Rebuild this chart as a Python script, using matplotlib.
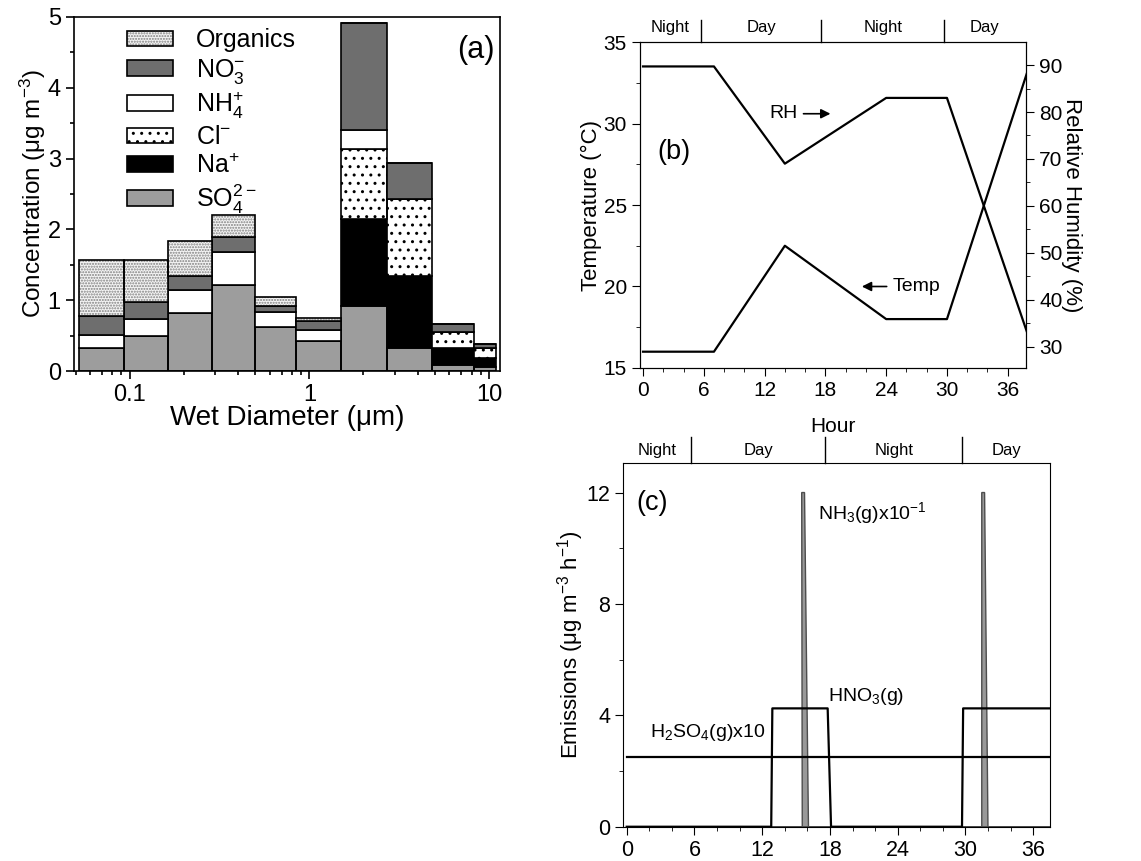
import numpy as np
import matplotlib.pyplot as plt
from matplotlib.patches import Patch
from matplotlib.legend_handler import HandlerTuple
from matplotlib.ticker import MultipleLocator, NullFormatter

plt.rcParams['font.family'] = ['Liberation Sans', 'DejaVu Sans']
plt.rcParams['mathtext.default'] = 'regular'
plt.rcParams['hatch.linewidth'] = 1.0

# ---- (a) size-resolved composition ----
bin_edges = [0.052, 0.093, 0.163, 0.286, 0.495, 0.847, 1.49, 2.71, 4.82, 8.25, 10.9]
so4 = [0.33, 0.49, 0.815, 1.22, 0.62, 0.43, 0.92, 0.32, 0.09, 0.06]
na = [0, 0, 0, 0, 0, 0, 1.23, 1.02, 0.23, 0.12]
cl = [0, 0, 0, 0, 0, 0, 0.99, 1.09, 0.235, 0.15]
nh4 = [0.18, 0.24, 0.325, 0.46, 0.22, 0.15, 0.27, 0, 0, 0]
no3 = [0.27, 0.24, 0.20, 0.21, 0.08, 0.12, 1.50, 0.51, 0.105, 0.05]
org = [0.79, 0.60, 0.50, 0.31, 0.12, 0.05, 0, 0, 0, 0]

# ---- (b) meteorology ----
met_hours = [0, 7, 14, 24, 30, 38]
temp = [16, 16, 22.5, 18, 18, 33.3]
rh = [89.7, 89.7, 69, 83, 83, 32.5]

# ---- (c) emissions ----
h2so4_hours = [0, 38]
h2so4 = [2.5, 2.5]
hno3_hours = [0, 12.8, 12.9, 17.8, 18.1, 29.7, 29.8, 38]
hno3 = [0, 0, 4.25, 4.25, 0, 0, 4.25, 4.25]
nh3_hours = [0, 15.55, 15.5, 15.75, 16.1, 31.45, 31.45, 31.7, 32.0, 38]
nh3 = [0, 0, 12, 12, 0, 0, 12, 12, 0, 0]

period_edges = [5.7, 17.6, 29.7]
period_labels = ['Night', 'Day', 'Night', 'Day']

fig = plt.figure(figsize=(11.41, 8.61), dpi=100)
axa = fig.add_axes([0.0649, 0.5691, 0.3733, 0.4112])
axb = fig.add_axes([0.5609, 0.5726, 0.3383, 0.3786])
axc = fig.add_axes([0.5463, 0.0398, 0.3740, 0.4221])

# layer styles: name, values, face, hatch, hatch colour
layers = [
    ('$SO_4^{2-}$', so4, '#9d9d9d', None, 'k'),
    ('$Na^{+}$', na, 'black', None, 'k'),
    ('$Cl^{-}$', cl, 'white', '..', 'k'),
    ('$NH_4^{+}$', nh4, 'white', None, 'k'),
    ('$NO_3^{-}$', no3, '#6e6e6e', None, 'k'),
    ('Organics', org, '#f4f4f4', '......', '0.5'),
]

edges = np.array(bin_edges)
left = edges[:-1]
width = np.diff(edges)
bottom = np.zeros(len(left))
handles = []
for name, vals, fc, hatch, hc in layers:
    vals = np.array(vals)
    axa.bar(left, vals, width, bottom=bottom, align='edge', color=fc,
            hatch=hatch, edgecolor=hc, linewidth=0)
    axa.bar(left, vals, width, bottom=bottom, align='edge', fill=False,
            edgecolor='k', linewidth=1.2)
    bottom += vals
    h = (Patch(facecolor=fc, hatch=hatch, edgecolor=hc, linewidth=0),
         Patch(fill=False, edgecolor='k', linewidth=1.2))
    handles.append((h, name))

handles = handles[::-1]
axa.legend([h for h, n in handles], [n for h, n in handles],
           handler_map={tuple: HandlerTuple(ndivide=1)},
           loc='upper left', bbox_to_anchor=(0.124, 0.968), frameon=False,
           fontsize=18, handlelength=1.85, handleheight=0.6,
           labelspacing=0.17, handletextpad=0.9, borderpad=0, borderaxespad=0)

axa.set_xscale('log')
axa.set_xlim(0.049, 11.5)
axa.set_ylim(0, 5)
axa.set_xticks([0.1, 1, 10], labels=['0.1', '1', '10'])
axa.xaxis.set_minor_formatter(NullFormatter())
axa.yaxis.set_major_locator(MultipleLocator(1))
axa.yaxis.set_minor_locator(MultipleLocator(0.5))
axa.tick_params(which='both', direction='out', labelsize=17, width=1.2)
axa.tick_params(which='major', length=6)
axa.tick_params(which='minor', length=3)
axa.set_xlabel('Wet Diameter (μm)', fontsize=20, labelpad=-1)
axa.set_ylabel('Concentration (μg m$^{-3}$)', fontsize=17.5, labelpad=0)
axa.text(0.899, 0.907, '(a)', transform=axa.transAxes, fontsize=22,
         ha='left', va='center')
for s in axa.spines.values():
    s.set_linewidth(1.2)


def day_night(ax, xlim, line_h, text_y):
    tr = ax.get_xaxis_transform()
    for x in period_edges:
        ax.plot([x, x], [1, 1 + line_h], transform=tr, color='k', lw=1,
                clip_on=False)
    bounds = [xlim[0]] + period_edges + [xlim[1]]
    for i, lab in enumerate(period_labels):
        ax.text((bounds[i] + bounds[i + 1]) / 2, 1 + text_y, lab,
                transform=tr, ha='center', va='center', fontsize=12)


# ---- panel (b) ----
bxlim = (-0.3, 37.8)
axb.plot(met_hours, temp, color='k', lw=1.6)
axb.set_xlim(*bxlim)
axb.set_ylim(15, 35)
axb.xaxis.set_major_locator(MultipleLocator(6))
axb.xaxis.set_minor_locator(MultipleLocator(2))
axb.yaxis.set_major_locator(MultipleLocator(5))
axb.yaxis.set_minor_locator(MultipleLocator(2.5))
axb.tick_params(which='both', direction='out', labelsize=15)
axb.tick_params(which='major', length=6)
axb.tick_params(which='minor', length=3)
axb.set_xlabel('Hour', fontsize=15, labelpad=12)
axb.set_ylabel('Temperature (°C)', fontsize=16, labelpad=1)
axb2 = axb.twinx()
axb2.plot(met_hours, rh, color='k', lw=1.6)
axb2.set_ylim(25.5, 94.9)
axb2.yaxis.set_major_locator(MultipleLocator(10))
axb2.yaxis.set_minor_locator(MultipleLocator(5))
axb2.tick_params(which='both', direction='out', labelsize=15)
axb2.tick_params(which='major', length=6)
axb2.tick_params(which='minor', length=3)
axb2.set_ylabel('Relative Humidity (%)', fontsize=16, rotation=270,
                labelpad=14)
axb.annotate('RH', xy=(18.5, 30.6), xytext=(12.5, 30.6), fontsize=14,
             ha='left', va='center',
             arrowprops=dict(arrowstyle='-|>', color='k', lw=1.2,
                             shrinkA=2, shrinkB=0))
axb.annotate('Temp', xy=(21.6, 20.0), xytext=(24.6, 20.0), fontsize=14,
             ha='left', va='center',
             arrowprops=dict(arrowstyle='-|>', color='k', lw=1.2,
                             shrinkA=2, shrinkB=0))
axb.text(0.044, 0.663, '(b)', transform=axb.transAxes, fontsize=19.5,
         ha='left', va='center')
day_night(axb, bxlim, 0.0675, 0.043)

# ---- panel (c) ----
cxlim = (-0.3, 37.5)
axc.fill(nh3_hours, nh3, facecolor='0.6', edgecolor='0.3', lw=1.0)
axc.plot(h2so4_hours, h2so4, color='k', lw=1.6)
axc.plot(hno3_hours, hno3, color='k', lw=1.6)
axc.set_xlim(*cxlim)
axc.set_ylim(0, 13.05)
axc.xaxis.set_major_locator(MultipleLocator(6))
axc.xaxis.set_minor_locator(MultipleLocator(2))
axc.yaxis.set_major_locator(MultipleLocator(4))
axc.yaxis.set_minor_locator(MultipleLocator(2))
axc.tick_params(which='both', direction='out', labelsize=15.5)
axc.tick_params(which='major', length=6)
axc.tick_params(which='minor', length=3)
axc.set_ylabel('Emissions (μg m$^{-3}$ h$^{-1}$)', fontsize=16, labelpad=0)
axc.text(0.031, 0.891, '(c)', transform=axc.transAxes, fontsize=19.5,
         ha='left', va='center')
axc.text(16.9, 11.27, 'NH$_3$(g)x10$^{-1}$', fontsize=14, ha='left', va='center')
axc.text(17.85, 4.66, 'HNO$_3$(g)', fontsize=14, ha='left', va='center')
axc.text(2.07, 3.37, 'H$_2$SO$_4$(g)x10', fontsize=14, ha='left', va='center')
day_night(axc, cxlim, 0.0716, 0.036)

fig.savefig('out.png', dpi=100)
